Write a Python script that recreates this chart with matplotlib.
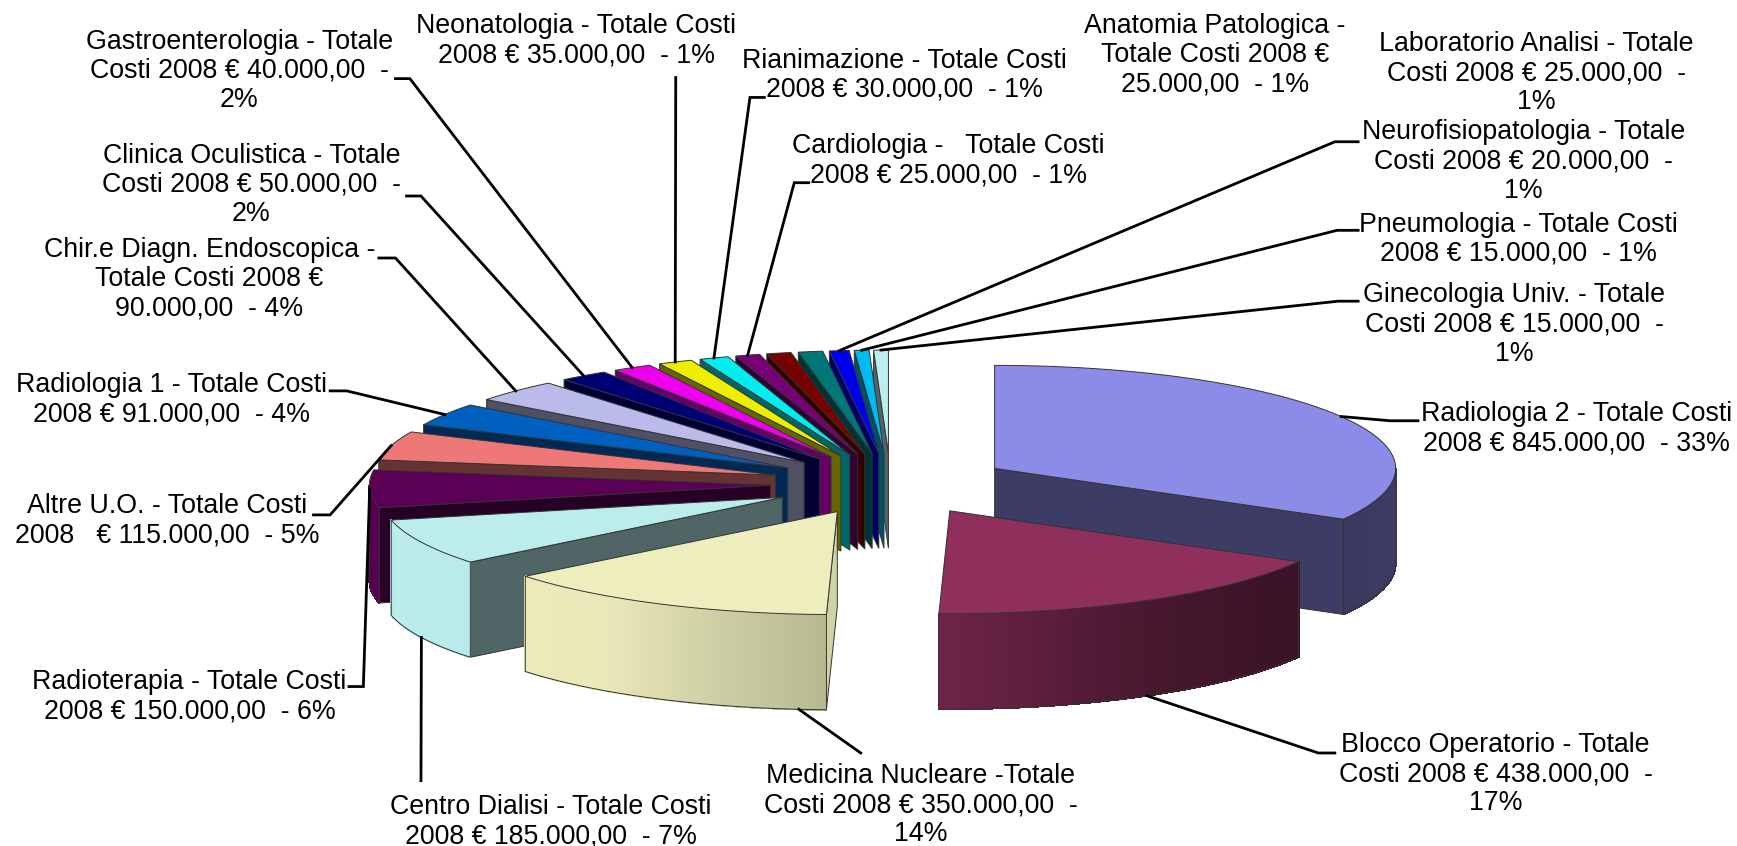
import numpy as np
import matplotlib
matplotlib.use('Agg')
import matplotlib.pyplot as plt

plt.rcParams['font.family'] = ['Liberation Sans', 'DejaVu Sans']

costs = [845000, 438000, 350000, 185000, 150000, 115000, 91000, 90000, 50000,
         40000, 35000, 30000, 25000, 25000, 25000, 20000, 15000, 15000]
labels = [
    'Radiologia 2 - Totale Costi\n2008 € 845.000,00  - 33%',
    'Blocco Operatorio - Totale\nCosti 2008 € 438.000,00  -\n17%',
    'Medicina Nucleare -Totale\nCosti 2008 € 350.000,00  -\n14%',
    'Centro Dialisi - Totale Costi\n2008 € 185.000,00  - 7%',
    'Radioterapia - Totale Costi\n2008 € 150.000,00  - 6%',
    'Altre U.O. - Totale Costi\n2008   € 115.000,00  - 5%',
    'Radiologia 1 - Totale Costi\n2008 € 91.000,00  - 4%',
    'Chir.e Diagn. Endoscopica -\nTotale Costi 2008 €\n90.000,00  - 4%',
    'Clinica Oculistica - Totale\nCosti 2008 € 50.000,00  -\n2%',
    'Gastroenterologia - Totale\nCosti 2008 € 40.000,00  -\n2%',
    'Neonatologia - Totale Costi\n2008 € 35.000,00  - 1%',
    'Rianimazione - Totale Costi\n2008 € 30.000,00  - 1%',
    'Cardiologia -   Totale Costi\n2008 € 25.000,00  - 1%',
    'Anatomia Patologica -\nTotale Costi 2008 €\n25.000,00  - 1%',
    'Laboratorio Analisi - Totale\nCosti 2008 € 25.000,00  -\n1%',
    'Neurofisiopatologia - Totale\nCosti 2008 € 20.000,00  -\n1%',
    'Pneumologia - Totale Costi\n2008 € 15.000,00  - 1%',
    'Ginecologia Univ. - Totale\nCosti 2008 € 15.000,00  -\n1%',
]
colors = ['#8C8CE8', '#8E2F5C', '#EDEDBD', '#BBEDED', '#5A0055', '#EE7777',
          '#0060C0', '#BBBBEA', '#000075', '#EE00EE', '#EEEE00', '#00EEEE',
          '#770077', '#770000', '#007777', '#0000EE', '#00BBEE', '#BBEEEE']
label_x = [1423, 1350, 831, 497, 171, 151, 155, 189, 227, 216, 520, 816, 856, 1097, 1387, 1375, 1371, 1367]
label_y = [387, 699, 727, 742, 629, 470, 361, 252, 167, 64, 37, 68, 145, 50, 66, 146, 216, 293]
# leader bend points, None where the label has no leader
leaders = [
    [(1255, 380), (1280, 380)], [(1190, 680), (1205, 680)], [(777, 680)], [(380, 705)],
    [(328, 620), (315, 620)], [(298, 465), (283, 465)], [(313, 353), (298, 353)],
    [(357, 233), (342, 233)], [(380, 177), (367, 177)], [(370, 71), (357, 71)],
    [(610, 70)], [(677, 88), (690, 88)], [(717, 165), (730, 165)], None, None,
    [(1205, 128), (1226, 128)], [(1207, 208), (1226, 208)], [(1208, 272), (1226, 272)],
]

cx, cy = 804, 437
rx, ry = 362, 93
depth = 86
explode = 0.3

costs = np.array(costs, dtype=float)
edges = np.concatenate([[0], np.cumsum(costs)]) / costs.sum() * 360
mids = (edges[:-1] + edges[1:]) / 2


def wall_shade(t):
    return np.interp(t, [90, 125, 150, 181, 215, 255, 270], [0.43, 0.41, 0.5, 0.77, 0.98, 1.0, 0.9])


def dark(col, k):
    return tuple(c * k for c in matplotlib.colors.to_rgb(col))


fig = plt.figure(figsize=(17.37, 8.46), dpi=100)
ax = fig.add_axes([0, 0, 1, 1])
ax.set_xlim(0, 1568)
ax.set_ylim(764, 0)
ax.axis('off')

edge = '#333333'
# back slices first so the front ones paint over them
for i in np.argsort(-np.cos(np.radians(mids))):
    t0, t1, mid = edges[i], edges[i + 1], mids[i]
    ox = cx + explode * rx * np.sin(np.radians(mid))
    oy = cy - explode * ry * np.cos(np.radians(mid))
    rim = lambda t: (ox + rx * np.sin(np.radians(t)), oy - ry * np.cos(np.radians(t)))

    # cut faces
    for t, show in ((t0, np.sin(np.radians(t0)) < 0), (t1, np.sin(np.radians(t1)) > 0)):
        if show:
            x, y = rim(t)
            k = 0.88 if i == 2 else 0.43
            ax.fill([ox, x, x, ox], [oy, y, y + depth, oy + depth], fc=dark(colors[i], k),
                    ec=edge, lw=0.7, zorder=2)

    # outer wall, cut in strips for the shading
    a, b = max(t0, 90), min(t1, 270)
    if b > a:
        ts = np.linspace(a, b, int((b - a) * 3) + 2)
        for s0, s1 in zip(ts[:-1], ts[1:]):
            x0, y0 = rim(s0)
            x1, y1 = rim(s1)
            col = dark(colors[i], wall_shade((s0 + s1) / 2))
            ax.fill([x0, x1, x1, x0], [y0, y1, y1 + depth, y0 + depth], fc=col, ec=col, lw=0.8,
                    antialiased=False, zorder=2)
        xs, ys = rim(ts)
        ax.plot(np.r_[xs[0], xs, xs[-1]], np.r_[ys[0], ys + depth, ys[-1]], color=edge, lw=0.7, zorder=2)

    # top face
    ts = np.linspace(t0, t1, 80)
    xs, ys = rim(ts)
    ax.fill(np.r_[ox, xs], np.r_[oy, ys], fc=colors[i], ec=edge, lw=0.7, zorder=2)

# leaders start on the rim, at the middle of the slice
anchor_angle = {2: 185.5}
for i, pts in enumerate(leaders):
    if pts is None:
        continue
    t = anchor_angle.get(i, mids[i])
    ox = cx + explode * rx * np.sin(np.radians(mids[i]))
    oy = cy - explode * ry * np.cos(np.radians(mids[i]))
    x = ox + rx * np.sin(np.radians(t))
    y = oy - ry * np.cos(np.radians(t))
    if 90 < t < 260:
        y += depth
    px = [x] + [p[0] for p in pts]
    py = [y] + [p[1] for p in pts]
    ax.plot(px, py, color='black', lw=2.0, zorder=3, solid_joinstyle='miter')

for i, lab in enumerate(labels):
    ax.text(label_x[i], label_y[i], lab, ha='center', va='center', ma='center',
            fontsize=19.3, linespacing=1.16, color='black', zorder=4)

fig.savefig('out.png', dpi=100)
